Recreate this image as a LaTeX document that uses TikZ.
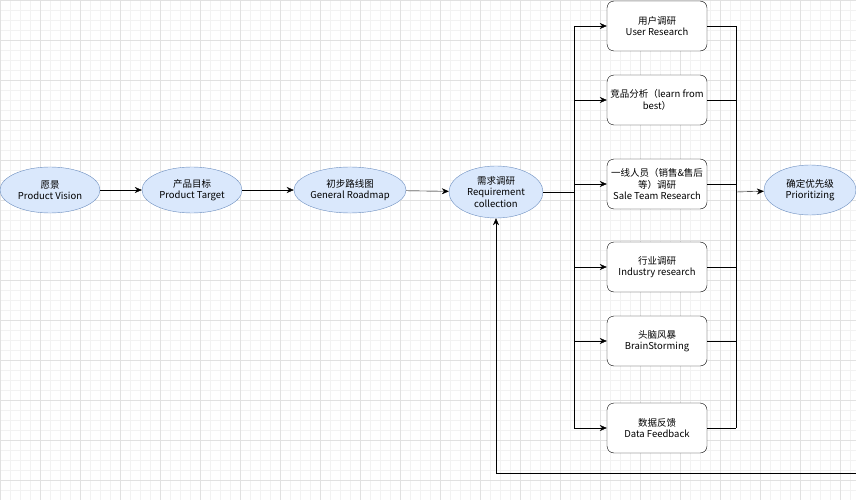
\documentclass[tikz,border=0pt]{standalone}
\usepackage{fontspec}
\setmainfont{Noto Sans CJK SC}
\usetikzlibrary{arrows.meta,shapes.geometric}
\definecolor{gridminor}{RGB}{242,242,242}
\definecolor{gridmajor}{RGB}{225,225,225}
\definecolor{phasefill}{RGB}{218,232,252}
\definecolor{phasedraw}{RGB}{108,142,191}
\tikzset{
	phase/.style={ellipse, draw=phasedraw, fill=phasefill, minimum height=46pt,
	align=center, font=\fontsize{9.5}{11.5}\selectfont, inner sep=0pt},
	task/.style={rectangle, rounded corners=7pt, draw=black, fill=white,
	minimum width=100pt, minimum height=50pt, align=center,
	font=\fontsize{9.5}{11.5}\selectfont, inner sep=0pt},
	link/.style={draw=black, -{Stealth[length=7pt,width=6pt]}},
	bus/.style={draw=black}
}
\begin{document}
\begin{tikzpicture}[x=1pt,y=-1pt]
	\useasboundingbox (0,0) rectangle (856,500);
	% Raster
	\draw[gridminor, line width=0.4pt] (0,0) grid[step=10pt] (856,500);
	\draw[gridmajor, line width=0.4pt] (0,0) grid[step=40pt] (856,500);
	% Hauptablauf
	\node[phase, minimum width=100pt] (vision) at (50,190) {愿景\\Product Vision};
	\node[phase, minimum width=100pt] (target) at (192,190) {产品目标\\Product Target};
	\node[phase, minimum width=100pt] (roadmap) at (350,190) {初步路线图\\General Roadmap};
	\node[phase, minimum width=94pt, minimum height=52pt] (collect) at (496,192)
	{需求调研\\Requirement\\collection};
	\node[phase, minimum width=92pt, minimum height=50pt] (prio) at (810,190)
	{确定优先级\\Prioritizing};
	% Methoden
	\node[task] (user) at (657,26) {用户调研\\User Research};
	\node[task] (rival) at (657,100) {竞品分析（learn from\\best）};
	\node[task] (sales) at (657,184) {一线人员（销售\&售后\\等）调研\\Sale Team Research};
	\node[task] (industry) at (657,267) {行业调研\\Industry research};
	\node[task] (brain) at (657,341) {头脑风暴\\BrainStorming};
	\node[task] (data) at (657,428) {数据反馈\\Data Feedback};
	\coordinate (split) at (574,192);
	\coordinate (merge) at (736,192);
	\coordinate (out) at (856,190);
	\coordinate (back) at (856,473);
	% Verbindungen
	\draw[link] (vision) -- (target);
	\draw[link] (target) -- (roadmap);
	\draw[link] (roadmap) -- (collect);
	\draw[bus] (collect.east) -- (split);
	\draw[bus] (574,26) -- (574,428);
	\draw[bus] (736,26) -- (736,428);
	\foreach \t in {user,rival,sales,industry,brain,data} {
		\draw[link] (574,0 |- \t.west) -- (\t.west);
		\draw[bus] (\t.east) -- (736,0 |- \t.east);
	}
	\draw[link] (merge) -- (prio);
	\draw[bus] (prio.east) -- (out);
	\draw[link] (back) -| (collect.south);
\end{tikzpicture}
\end{document}
